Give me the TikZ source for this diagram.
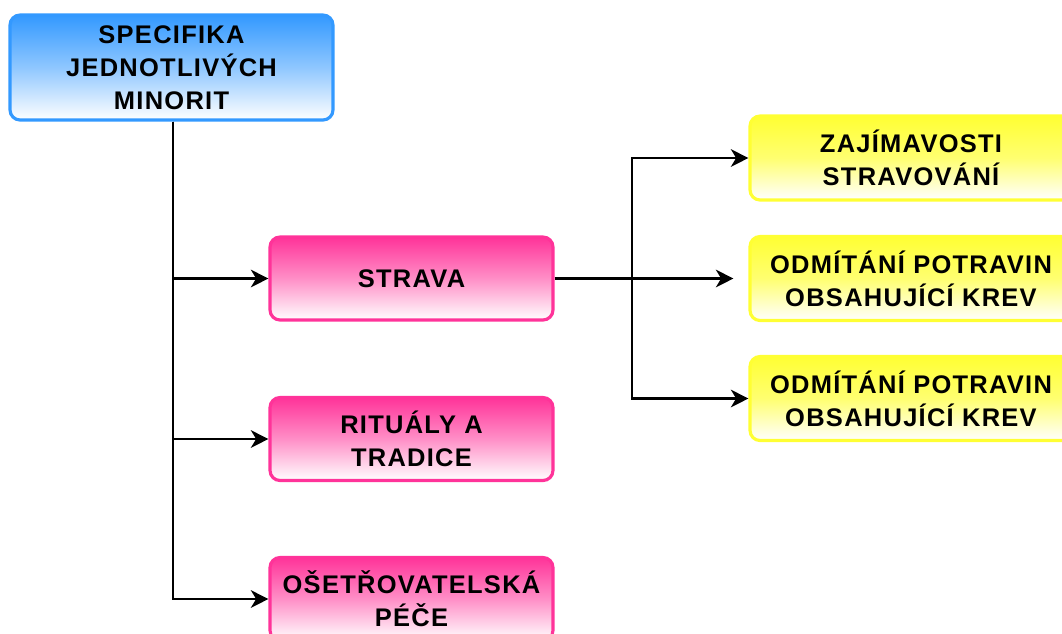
\documentclass[tikz,border=0pt]{standalone}
\usepackage{fontspec}
\newfontfamily\boxfont{Liberation Sans}[LetterSpace=5]
\usetikzlibrary{arrows.meta}
\usetikzlibrary{calc}

\definecolor{specblue}{HTML}{3399FF}
\definecolor{specpink}{HTML}{FF3399}
\definecolor{specyellow}{HTML}{FFFF33}

\begin{document}
\begin{tikzpicture}[x=0.02cm, y=-0.02cm,
    box/.style={rectangle, rounded corners=0.2cm, line width=1.8pt, align=center, inner sep=0pt,
        font=\boxfont\bfseries\fontsize{14.5}{18.7}\selectfont, bottom color=white},
    topbox/.style={box, draw=specblue, top color=specblue, middle color=specblue!55, minimum width=6.46cm, minimum height=2.1cm},
    midbox/.style={box, draw=specpink, top color=specpink, middle color=specpink!55, minimum width=5.66cm, minimum height=1.66cm},
    rightbox/.style={box, draw=specyellow, top color=specyellow, middle color=specyellow!70, minimum width=6.44cm, minimum height=1.68cm},
    arr/.style={-{Stealth[length=10pt, width=10pt, inset=3pt]}, line width=1.2pt}]
    \useasboundingbox (0, 0) rectangle (1062, 633);

    % left column
    \node[topbox] (spec) at (171.5, 67.5) {SPECIFIKA\\JEDNOTLIVÝCH\\MINORIT};
    \node[midbox] (strava) at (411.5, 278.5) {STRAVA};
    \node[midbox] (ritual) at (411.5, 439) {RITUÁLY A\\TRADICE};
    \node[midbox] (pece) at (411.5, 599) {OŠETŘOVATELSKÁ\\PÉČE};

    % right column
    \node[rightbox] (zajim) at (911, 158) {ZAJÍMAVOSTI\\STRAVOVÁNÍ};
    \node[rightbox] (krevA) at (911, 278.5) {ODMÍTÁNÍ POTRAVIN\\OBSAHUJÍCÍ KREV};
    \node[rightbox] (krevB) at (911, 398.5) {ODMÍTÁNÍ POTRAVIN\\OBSAHUJÍCÍ KREV};

    \foreach \n in {strava, ritual, pece}
    {
        \draw[arr] ($(spec.south) + (1.5, 0)$) |- (\n.west);
    }

    \coordinate (split) at (632, 278.5);
    \draw[arr, shorten >=0.3cm] (strava.east) -- (krevA.west);
    \draw[arr] (split) |- (zajim.west);
    \draw[arr] (split) |- (krevB.west);
\end{tikzpicture}
\end{document}
